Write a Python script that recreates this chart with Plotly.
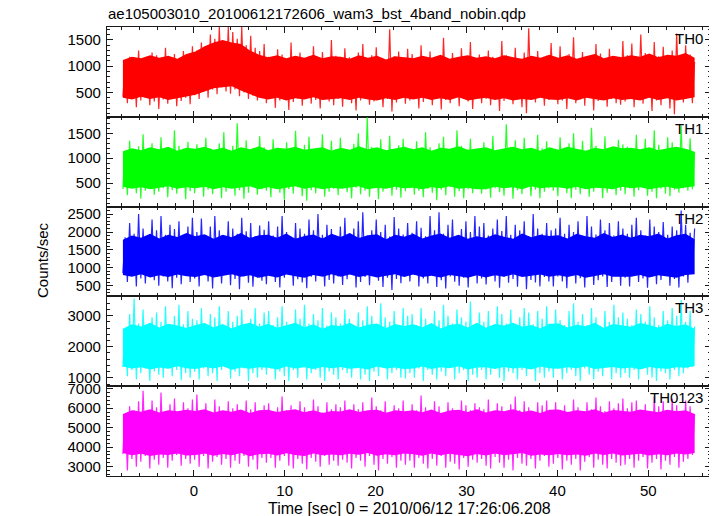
import plotly.graph_objects as go

# ---------------- data ----------------
TITLE = "ae105003010_20100612172606_wam3_bst_4band_nobin.qdp"
X_LABEL = "Time [sec] 0 = 2010/06/12 17:26:06.208"
Y_LABEL = "Counts/sec"
PANEL_NAMES = ["TH0", "TH1", "TH2", "TH3", "TH0123"]
PANEL_COLORS = ["#ff0000", "#00ff00", "#0000ff", "#00ffff", "#ff00ff"]

T_START = -7.8          # first bin of the light curve [s]
T_END = 55.1            # last bin [s]
# 128 trough samples, each followed by a peak sample half a step later
trough_times = [T_START + k * (T_END - T_START - 0.25) / 127.0 for k in range(128)]
# 64 samples of the dense core envelope (about one per second)
core_times = [T_START + k * (T_END - T_START) / 63.0 for k in range(64)]

TH0_peaks = [1020, 1180, 1090, 1300, 1140, 1050, 1260, 1210, 1080, 1350, 1120, 1230, 1010, 1290, 1160, 1380,
             1300, 1450, 1380, 1600, 1520, 1745, 1480, 1745, 1650, 1520, 1745, 1400, 1580, 1350, 1290, 1420,
             1180, 1050, 1320, 1220, 1090, 1450, 1130, 1260, 1040, 1190, 1380, 1110, 1270, 1060, 1500, 1200,
             1100, 1340, 1170, 1030, 1260, 1420, 1080, 1210, 1360, 1120, 1050, 1700, 1190, 1280, 1070, 1330,
             1230, 1060, 1400, 1150, 1280, 1020, 1190, 1540, 1110, 1250, 1080, 1340, 1170, 1460, 1050, 1220,
             1090, 1300, 1180, 1040, 1480, 1210, 1120, 1350, 1060, 1260, 1720, 1150, 1290, 1030, 1200, 1440,
             1140, 1380, 1050, 1230, 1550, 1100, 1270, 1180, 1020, 1420, 1240, 1090, 1330, 1160, 1060, 1480,
             1210, 1430, 1080, 1600, 1250, 1140, 1460, 1190, 1370, 1060, 1300, 1620, 1150, 1400, 1220, 1080]
TH0_troughs = [420, 300, 380, 220, 350, 410, 260, 330, 190, 370, 290, 430, 240, 340, 400, 280,
               450, 380, 520, 400, 560, 470, 600, 520, 480, 560, 430, 500, 380, 440, 350, 400,
               300, 400, 210, 350, 430, 170, 320, 390, 250, 410, 290, 360, 200, 420, 330, 260,
               380, 230, 410, 300, 160, 350, 420, 270, 330, 400, 220, 380, 140, 310, 420, 290,
               350, 410, 200, 320, 390, 260, 430, 180, 360, 300, 410, 240, 380, 330, 190, 420,
               300, 380, 260, 420, 150, 340, 400, 280, 370, 220, 110, 390, 310, 420, 250, 360,
               410, 280, 350, 190, 420, 300, 370, 250, 400, 160, 340, 410, 230, 380, 300, 270,
               330, 400, 220, 370, 290, 410, 150, 350, 260, 420, 200, 90, 380, 310, 400, 300]
TH0_top = [1120, 1180, 1150, 1210, 1160, 1200, 1140, 1230,
           1280, 1380, 1450, 1500, 1450, 1420, 1300, 1220,
           1170, 1210, 1150, 1200, 1160, 1220, 1150, 1190,
           1180, 1140, 1210, 1160, 1200, 1130, 1190, 1170,
           1150, 1200, 1160, 1220, 1140, 1180, 1210, 1160,
           1190, 1150, 1210, 1170, 1140, 1200, 1160, 1220,
           1160, 1210, 1140, 1190, 1230, 1150, 1200, 1170,
           1210, 1180, 1240, 1170, 1220, 1200, 1250, 1160]
TH0_bot = [400, 370, 420, 380, 410, 360, 390, 430,
           460, 520, 580, 600, 620, 540, 470, 400,
           370, 400, 350, 390, 370, 410, 360, 380,
           390, 360, 400, 370, 350, 390, 360, 400,
           370, 400, 360, 390, 360, 410, 350, 380,
           400, 360, 390, 350, 380, 360, 400, 370,
           360, 390, 350, 400, 370, 350, 390, 360,
           380, 350, 400, 360, 390, 350, 380, 410]

TH1_peaks = [1100, 1350, 1060, 1240, 1480, 1120, 1300, 1020, 1420, 1180, 1090, 1560, 1250, 1040, 1330, 1150,
             1280, 1050, 1410, 1190, 1070, 1300, 1520, 1120, 1250, 1700, 1080, 1360, 1160, 1030, 1440, 1220,
             1060, 1380, 1210, 1090, 1320, 1150, 1550, 1040, 1270, 1430, 1110, 1200, 1480, 1070, 1350, 1180,
             1410, 1130, 1040, 1290, 1500, 1090, 1820, 1230, 1060, 1380, 1170, 1450, 1030, 1260, 1390, 1110,
             1190, 1340, 1070, 1520, 1220, 1050, 1300, 1430, 1140, 1020, 1560, 1250, 1100, 1390, 1180, 1060,
             1320, 1090, 1450, 1170, 1040, 1680, 1230, 1360, 1080, 1410, 1150, 1030, 1470, 1200, 1340, 1100,
             1040, 1420, 1210, 1300, 1500, 1080, 1350, 1130, 1610, 1250, 1060, 1440, 1190, 1020, 1370, 1280,
             1230, 1070, 1470, 1150, 1390, 1040, 1560, 1270, 1100, 1420, 1320, 1060, 1650, 1180, 1400, 1120]
TH1_troughs = [380, 260, 410, 300, 190, 350, 420, 270, 330, 400, 220, 360, 290, 410, 180, 340,
               300, 420, 230, 370, 280, 400, 200, 330, 410, 250, 360, 190, 310, 420, 270, 380,
               350, 220, 400, 310, 170, 380, 290, 420, 240, 150, 360, 300, 410, 230, 330, 390,
               260, 390, 320, 200, 410, 280, 350, 230, 400, 180, 330, 410, 250, 370, 210, 340,
               400, 270, 350, 220, 390, 310, 160, 370, 260, 420, 230, 340, 200, 380, 300, 410,
               290, 380, 210, 400, 320, 250, 410, 190, 360, 280, 420, 240, 370, 200, 330, 400,
               350, 240, 410, 300, 200, 370, 280, 390, 230, 330, 410, 200, 310, 380, 260, 350,
               280, 400, 230, 360, 410, 250, 330, 200, 390, 290, 240, 370, 310, 400, 350, 380]
TH1_top = [1140, 1200, 1160, 1220, 1180, 1230, 1150, 1210,
           1190, 1230, 1170, 1210, 1150, 1220, 1180, 1240,
           1160, 1210, 1190, 1230, 1170, 1200, 1220, 1150,
           1210, 1170, 1240, 1180, 1220, 1160, 1200, 1230,
           1180, 1220, 1150, 1210, 1190, 1240, 1170, 1200,
           1220, 1160, 1200, 1230, 1180, 1210, 1150, 1220,
           1170, 1230, 1190, 1150, 1210, 1180, 1240, 1200,
           1210, 1180, 1220, 1160, 1200, 1230, 1190, 1130]
TH1_bot = [430, 390, 420, 380, 410, 440, 390, 420,
           400, 430, 380, 420, 390, 410, 440, 380,
           420, 380, 410, 440, 390, 420, 380, 410,
           390, 420, 440, 380, 410, 390, 430, 400,
           410, 380, 420, 400, 440, 390, 410, 380,
           380, 430, 400, 420, 380, 440, 400, 420,
           420, 390, 430, 380, 410, 400, 380, 430,
           400, 420, 380, 410, 430, 390, 420, 440]

TH2_peaks = [1850, 2250, 1950, 2500, 2100, 1880, 2350, 2050, 2450, 1920, 2200, 2080, 2300, 1860, 2150, 2400,
             2000, 2380, 1900, 2150, 2450, 2050, 1870, 2300, 2100, 1950, 2400, 2020, 2250, 1890, 2180, 2060,
             2300, 1900, 2150, 2450, 2000, 1860, 2250, 2100, 1950, 2350, 2050, 2500, 1920, 2200, 2080, 1880,
             2150, 2400, 1950, 2100, 2300, 2550, 1900, 2050, 2350, 2000, 2200, 1870, 2420, 2100, 1930, 2250,
             1980, 2300, 2120, 1880, 2450, 2050, 2550, 1950, 2200, 2350, 1900, 2080, 2300, 2000, 2450, 2150,
             2250, 1900, 2100, 2350, 2030, 2450, 1920, 2200, 2050, 2300, 1880, 2500, 2100, 1950, 2250, 2050,
             2100, 2400, 1950, 2200, 2000, 2300, 1880, 2450, 2150, 1930, 2350, 2050, 2250, 1900, 2300, 2100,
             1950, 2200, 2400, 2050, 1900, 2350, 2150, 2000, 2280, 1920, 2150, 2050, 2600, 2200, 1980, 2100]
TH2_troughs = [850, 600, 780, 480, 700, 560, 820, 650, 500, 760, 620, 430, 720, 540, 800, 600,
               700, 480, 800, 620, 420, 740, 560, 830, 510, 690, 400, 760, 580, 470, 720, 640,
               540, 780, 600, 450, 720, 820, 500, 680, 590, 430, 750, 620, 800, 480, 660, 560,
               760, 520, 680, 830, 450, 600, 740, 510, 800, 640, 460, 720, 380, 690, 570, 810,
               620, 800, 480, 700, 560, 830, 460, 650, 420, 760, 610, 500, 720, 450, 800, 560,
               700, 530, 810, 620, 440, 750, 580, 690, 470, 820, 400, 660, 590, 480, 740, 620,
               480, 760, 620, 430, 800, 560, 710, 450, 790, 520, 650, 760, 460, 600, 820, 500,
               720, 480, 790, 600, 700, 440, 760, 540, 660, 810, 500, 690, 450, 760, 580, 850]
TH2_top = [1780, 1900, 1840, 1950, 1820, 1920, 1860, 1970,
           1880, 1940, 1810, 1920, 1850, 1970, 1830, 1910,
           1920, 1840, 1960, 1810, 1890, 1930, 1820, 1950,
           1860, 1970, 1830, 1910, 1940, 1800, 1920, 1870,
           1950, 1820, 1900, 1960, 1840, 1920, 1810, 1880,
           1830, 1940, 1870, 1810, 1960, 1850, 1920, 1890,
           1910, 1820, 1950, 1880, 1840, 1970, 1860, 1930,
           1840, 1920, 1880, 1960, 1820, 1910, 1950, 1800]
TH2_bot = [800, 750, 820, 730, 790, 740, 810, 760,
           740, 800, 730, 780, 820, 750, 790, 720,
           780, 730, 810, 760, 720, 800, 750, 820,
           750, 810, 740, 790, 730, 780, 820, 740,
           810, 740, 780, 730, 800, 760, 720, 790,
           730, 790, 750, 820, 740, 780, 810, 750,
           790, 740, 800, 720, 780, 820, 750, 760,
           750, 800, 730, 790, 760, 720, 800, 820]

TH3_peaks = [2450, 3050, 3550, 2750, 3200, 2680, 2950, 3100, 2800, 3300, 2650, 3000, 3350, 2720, 3150, 2900,
             2850, 3250, 2700, 3050, 2950, 3300, 2650, 3150, 2800, 3000, 3200, 2700, 2900, 3250, 2750, 3100,
             3150, 2700, 2950, 3300, 2800, 2650, 3200, 2900, 3350, 2750, 3050, 2850, 3250, 2680, 3100, 2950,
             2750, 3200, 2900, 2650, 3100, 2850, 3300, 3000, 2700, 3400, 2950, 2800, 3150, 2660, 3250, 3000,
             3050, 2700, 3250, 2900, 2680, 3150, 2850, 3350, 3000, 2750, 3200, 2950, 2800, 3450, 2700, 3100,
             2800, 3150, 2700, 3300, 3050, 2750, 3200, 2650, 2950, 3250, 3100, 2720, 3150, 2900, 3300, 2680,
             3200, 2850, 2700, 3150, 3400, 2800, 3050, 2700, 3250, 2950, 2660, 3150, 2800, 3350, 2950, 3100,
             2900, 2700, 3200, 3050, 2800, 3300, 2950, 2700, 3150, 2850, 3250, 3000, 3500, 2800, 3150, 2650]
TH3_troughs = [1350, 1050, 1250, 950, 1150, 1300, 900, 1200, 1100, 1000, 1300, 1050, 1250, 920, 1150, 1000,
               1200, 950, 1300, 1050, 1150, 900, 1250, 1350, 980, 1200, 1050, 1300, 900, 1150, 1000, 1250,
               1100, 1300, 950, 1200, 1050, 900, 1250, 1000, 1350, 950, 1150, 1250, 1000, 900, 1200, 1100,
               950, 1250, 1150, 1000, 1300, 950, 1100, 900, 1200, 1050, 1350, 950, 1150, 1250, 1000, 980,
               1150, 1000, 1300, 900, 1250, 1100, 950, 1200, 1050, 1350, 950, 1150, 1250, 900, 1100, 1000,
               1250, 950, 1100, 1300, 1000, 900, 1200, 1150, 950, 1250, 1050, 1300, 900, 1150, 1000, 1200,
               1000, 1300, 950, 1150, 1250, 1050, 900, 1300, 1100, 950, 1200, 1050, 1350, 950, 1150, 1000,
               1150, 1000, 1250, 950, 1300, 1100, 1000, 900, 1200, 1150, 950, 1250, 1050, 1150, 1300, 1350]
TH3_top = [2580, 2720, 2650, 2770, 2620, 2740, 2680, 2600,
           2700, 2760, 2620, 2730, 2590, 2710, 2770, 2640,
           2740, 2610, 2690, 2770, 2630, 2720, 2580, 2700,
           2660, 2770, 2620, 2710, 2750, 2600, 2730, 2670,
           2720, 2630, 2760, 2590, 2700, 2740, 2620, 2770,
           2610, 2730, 2680, 2770, 2640, 2700, 2590, 2740,
           2750, 2620, 2710, 2660, 2770, 2600, 2730, 2680,
           2640, 2760, 2700, 2610, 2740, 2670, 2720, 2580]
TH3_bot = [1360, 1300, 1340, 1270, 1330, 1290, 1370, 1310,
           1280, 1350, 1300, 1370, 1260, 1330, 1290, 1340,
           1320, 1270, 1360, 1300, 1340, 1280, 1350, 1310,
           1350, 1290, 1320, 1270, 1360, 1300, 1330, 1280,
           1300, 1360, 1280, 1340, 1310, 1370, 1270, 1330,
           1340, 1280, 1350, 1300, 1330, 1270, 1360, 1310,
           1290, 1340, 1310, 1370, 1280, 1320, 1350, 1300,
           1330, 1270, 1350, 1310, 1290, 1340, 1320, 1380]

TH0123_peaks = [5650, 6100, 5900, 6350, 6900, 5800, 6400, 6050, 6800, 5750, 6200, 6500, 5850, 6300, 6000, 6450,
                6700, 5900, 6250, 5750, 6450, 6100, 5850, 6350, 6000, 6200, 5700, 6400, 5950, 6300, 5800, 6150,
                6250, 5800, 6050, 6600, 5900, 6150, 5750, 6350, 6050, 5850, 6450, 6100, 5780, 6300, 5950, 6200,
                6050, 6400, 5800, 6200, 5950, 6300, 5750, 6550, 6100, 5900, 6350, 5800, 6150, 6000, 6400, 5850,
                6200, 5900, 6650, 6050, 5800, 6350, 6100, 5750, 6300, 6000, 5850, 6400, 6150, 5900, 6250, 6050,
                5950, 6450, 5800, 6250, 6100, 5750, 6200, 6600, 5900, 6350, 6050, 5800, 6300, 6150, 6400, 5850,
                6300, 5900, 6150, 5800, 6450, 6050, 5750, 6300, 5950, 6550, 6100, 5850, 6350, 6000, 6250, 6500,
                6000, 6300, 6400, 5850, 6200, 5800, 6600, 6100, 6350, 5900, 6500, 6150, 5850, 6400, 6100, 5700]
TH0123_troughs = [3650, 2800, 3400, 3000, 3250, 3550, 2900, 3350, 3100, 3450, 2950, 3300, 3600, 3050, 3400, 3150,
                  3350, 3000, 3550, 2900, 3250, 3500, 3100, 3400, 2950, 3300, 3150, 3550, 3000, 3350, 2850, 3450,
                  3200, 3450, 2950, 3300, 3550, 3050, 2900, 3400, 3150, 2850, 3450, 3250, 3000, 3550, 3100, 3300,
                  3050, 3350, 3200, 2900, 3450, 3300, 3000, 3550, 3100, 2800, 3400, 3150, 3500, 2950, 3300, 3100,
                  3300, 2950, 3450, 3150, 2900, 3400, 3050, 3550, 2950, 3250, 3150, 2850, 3450, 3000, 3350, 3200,
                  3400, 3050, 2900, 3500, 3200, 2950, 3350, 2800, 3450, 3150, 3050, 3400, 2900, 3300, 3550, 3000,
                  3150, 3450, 2850, 3300, 3100, 3400, 2800, 3250, 3500, 2950, 3350, 3100, 2900, 3400, 3200, 3050,
                  3100, 3400, 2950, 3300, 3500, 2900, 3200, 3400, 2850, 3300, 3100, 3500, 2950, 3250, 3400, 3600]
TH0123_top = [5700, 5900, 5820, 5950, 5780, 5890, 5840, 5920,
              5860, 5950, 5780, 5900, 5820, 5940, 5760, 5890,
              5920, 5800, 5880, 5950, 5790, 5900, 5750, 5860,
              5830, 5950, 5800, 5890, 5920, 5770, 5900, 5850,
              5900, 5790, 5940, 5760, 5880, 5920, 5800, 5950,
              5780, 5900, 5850, 5950, 5810, 5880, 5760, 5920,
              5930, 5800, 5890, 5840, 5950, 5770, 5910, 5850,
              5820, 5940, 5880, 5790, 5920, 5850, 5900, 5700]
TH0123_bot = [3700, 3580, 3660, 3550, 3630, 3600, 3680, 3570,
              3600, 3680, 3560, 3650, 3580, 3700, 3540, 3640,
              3660, 3570, 3690, 3600, 3550, 3670, 3580, 3630,
              3580, 3660, 3610, 3700, 3560, 3640, 3590, 3670,
              3640, 3560, 3680, 3580, 3660, 3600, 3540, 3650,
              3570, 3670, 3590, 3640, 3700, 3560, 3620, 3580,
              3650, 3580, 3630, 3560, 3680, 3600, 3670, 3570,
              3600, 3660, 3570, 3640, 3590, 3680, 3620, 3700]

# axis settings per panel
Y_RANGES = [[40, 1745], [30, 1830], [200, 2710], [730, 3620], [2520, 7130]]
Y_TICKS = [[500, 1000, 1500], [500, 1000, 1500],
           [500, 1000, 1500, 2000, 2500], [1000, 2000, 3000],
           [3000, 4000, 5000, 6000, 7000]]
Y_MINOR = [100, 100, 100, 200, 200]
X_RANGE = [-9.55, 56.9]
X_TICKS = [0, 10, 20, 30, 40, 50]

PEAKS = [TH0_peaks, TH1_peaks, TH2_peaks, TH3_peaks, TH0123_peaks]
TROUGHS = [TH0_troughs, TH1_troughs, TH2_troughs, TH3_troughs, TH0123_troughs]
TOP = [TH0_top, TH1_top, TH2_top, TH3_top, TH0123_top]
BOT = [TH0_bot, TH1_bot, TH2_bot, TH3_bot, TH0123_bot]

# ---------------- figure ----------------
FONT = "Liberation Sans, Arial, Helvetica, sans-serif"
AX = "#1a1a1a"
fig = go.Figure()
layout = {}
annotations = []
n = len(PANEL_NAMES)

for i in range(n):
    k = "" if i == 0 else str(i + 1)
    xref, yref = "x" + k, "y" + k
    col = PANEL_COLORS[i]
    # dense core band
    fig.add_trace(go.Scatter(x=core_times, y=BOT[i], mode="lines",
                             line=dict(color=col, width=0), xaxis=xref, yaxis=yref,
                             showlegend=False, hoverinfo="skip"))
    fig.add_trace(go.Scatter(x=core_times, y=TOP[i], mode="lines", fill="tonexty",
                             fillcolor=col, line=dict(color=col, width=0),
                             xaxis=xref, yaxis=yref, showlegend=False, hoverinfo="skip"))
    # light curve: trough sample followed by a peak sample
    step = trough_times[1] - trough_times[0]
    xs, ys = [], []
    for t, lo, hi in zip(trough_times, TROUGHS[i], PEAKS[i]):
        xs += [t, t + step / 2]
        ys += [lo, hi]
    fig.add_trace(go.Scatter(x=xs, y=ys, mode="lines",
                             line=dict(color=col, width=1.2), opacity=0.85,
                             xaxis=xref, yaxis=yref, showlegend=False))

    d0 = (n - 1 - i) / n
    d1 = (n - i) / n
    layout["yaxis" + k] = dict(
        domain=[d0, d1], range=Y_RANGES[i], anchor=xref,
        tickvals=Y_TICKS[i], ticks="inside", ticklen=6, tickcolor=AX, tickwidth=1,
        minor=dict(ticks="inside", dtick=Y_MINOR[i], ticklen=3, tickcolor=AX, tickwidth=1),
        showline=True, linecolor=AX, linewidth=1.3, mirror="allticks",
        showgrid=False, zeroline=False, ticklabelstandoff=2,
        tickfont=dict(family=FONT, size=15, color="black"))
    layout["xaxis" + k] = dict(
        domain=[0, 1], range=X_RANGE, anchor=yref,
        matches=None if i == 0 else "x",
        tickvals=X_TICKS, ticks="inside", ticklen=6, tickcolor=AX, tickwidth=1,
        minor=dict(ticks="inside", dtick=2, tick0=0, ticklen=3, tickcolor=AX, tickwidth=1),
        showline=True, linecolor=AX, linewidth=1.3, mirror="allticks",
        showgrid=False, zeroline=False, showticklabels=(i == n - 1),
        ticklabelstandoff=1,
        tickfont=dict(family=FONT, size=15, color="black"))
    annotations.append(dict(text=PANEL_NAMES[i], xref="paper", yref="paper",
                            x=1, y=d1, xanchor="right", yanchor="top",
                            xshift=-6, yshift=-1, showarrow=False,
                            font=dict(family=FONT, size=15, color="black")))

annotations += [
    dict(text=TITLE, xref="paper", yref="paper", x=0, y=1.031, xanchor="left",
         yanchor="middle", xshift=-1, showarrow=False,
         font=dict(family=FONT, size=15, color="black")),
    dict(text=X_LABEL, xref="paper", yref="paper", x=0.5, y=-0.0713,
         xanchor="center", yanchor="middle", showarrow=False,
         font=dict(family=FONT, size=16, color="black")),
    dict(text=Y_LABEL, xref="paper", yref="paper", x=-0.1076, y=0.481,
         xanchor="center", yanchor="middle", textangle=-90, showarrow=False,
         font=dict(family=FONT, size=15, color="black")),
]

fig.update_layout(**layout)
# the page body adds an 8 px offset, so the figure is 8 px smaller on each side
fig.update_layout(width=709, height=508, margin=dict(l=99, r=6, t=19, b=40),
                  paper_bgcolor="white", plot_bgcolor="white",
                  annotations=annotations, showlegend=False)
fig.write_html("out.html")
